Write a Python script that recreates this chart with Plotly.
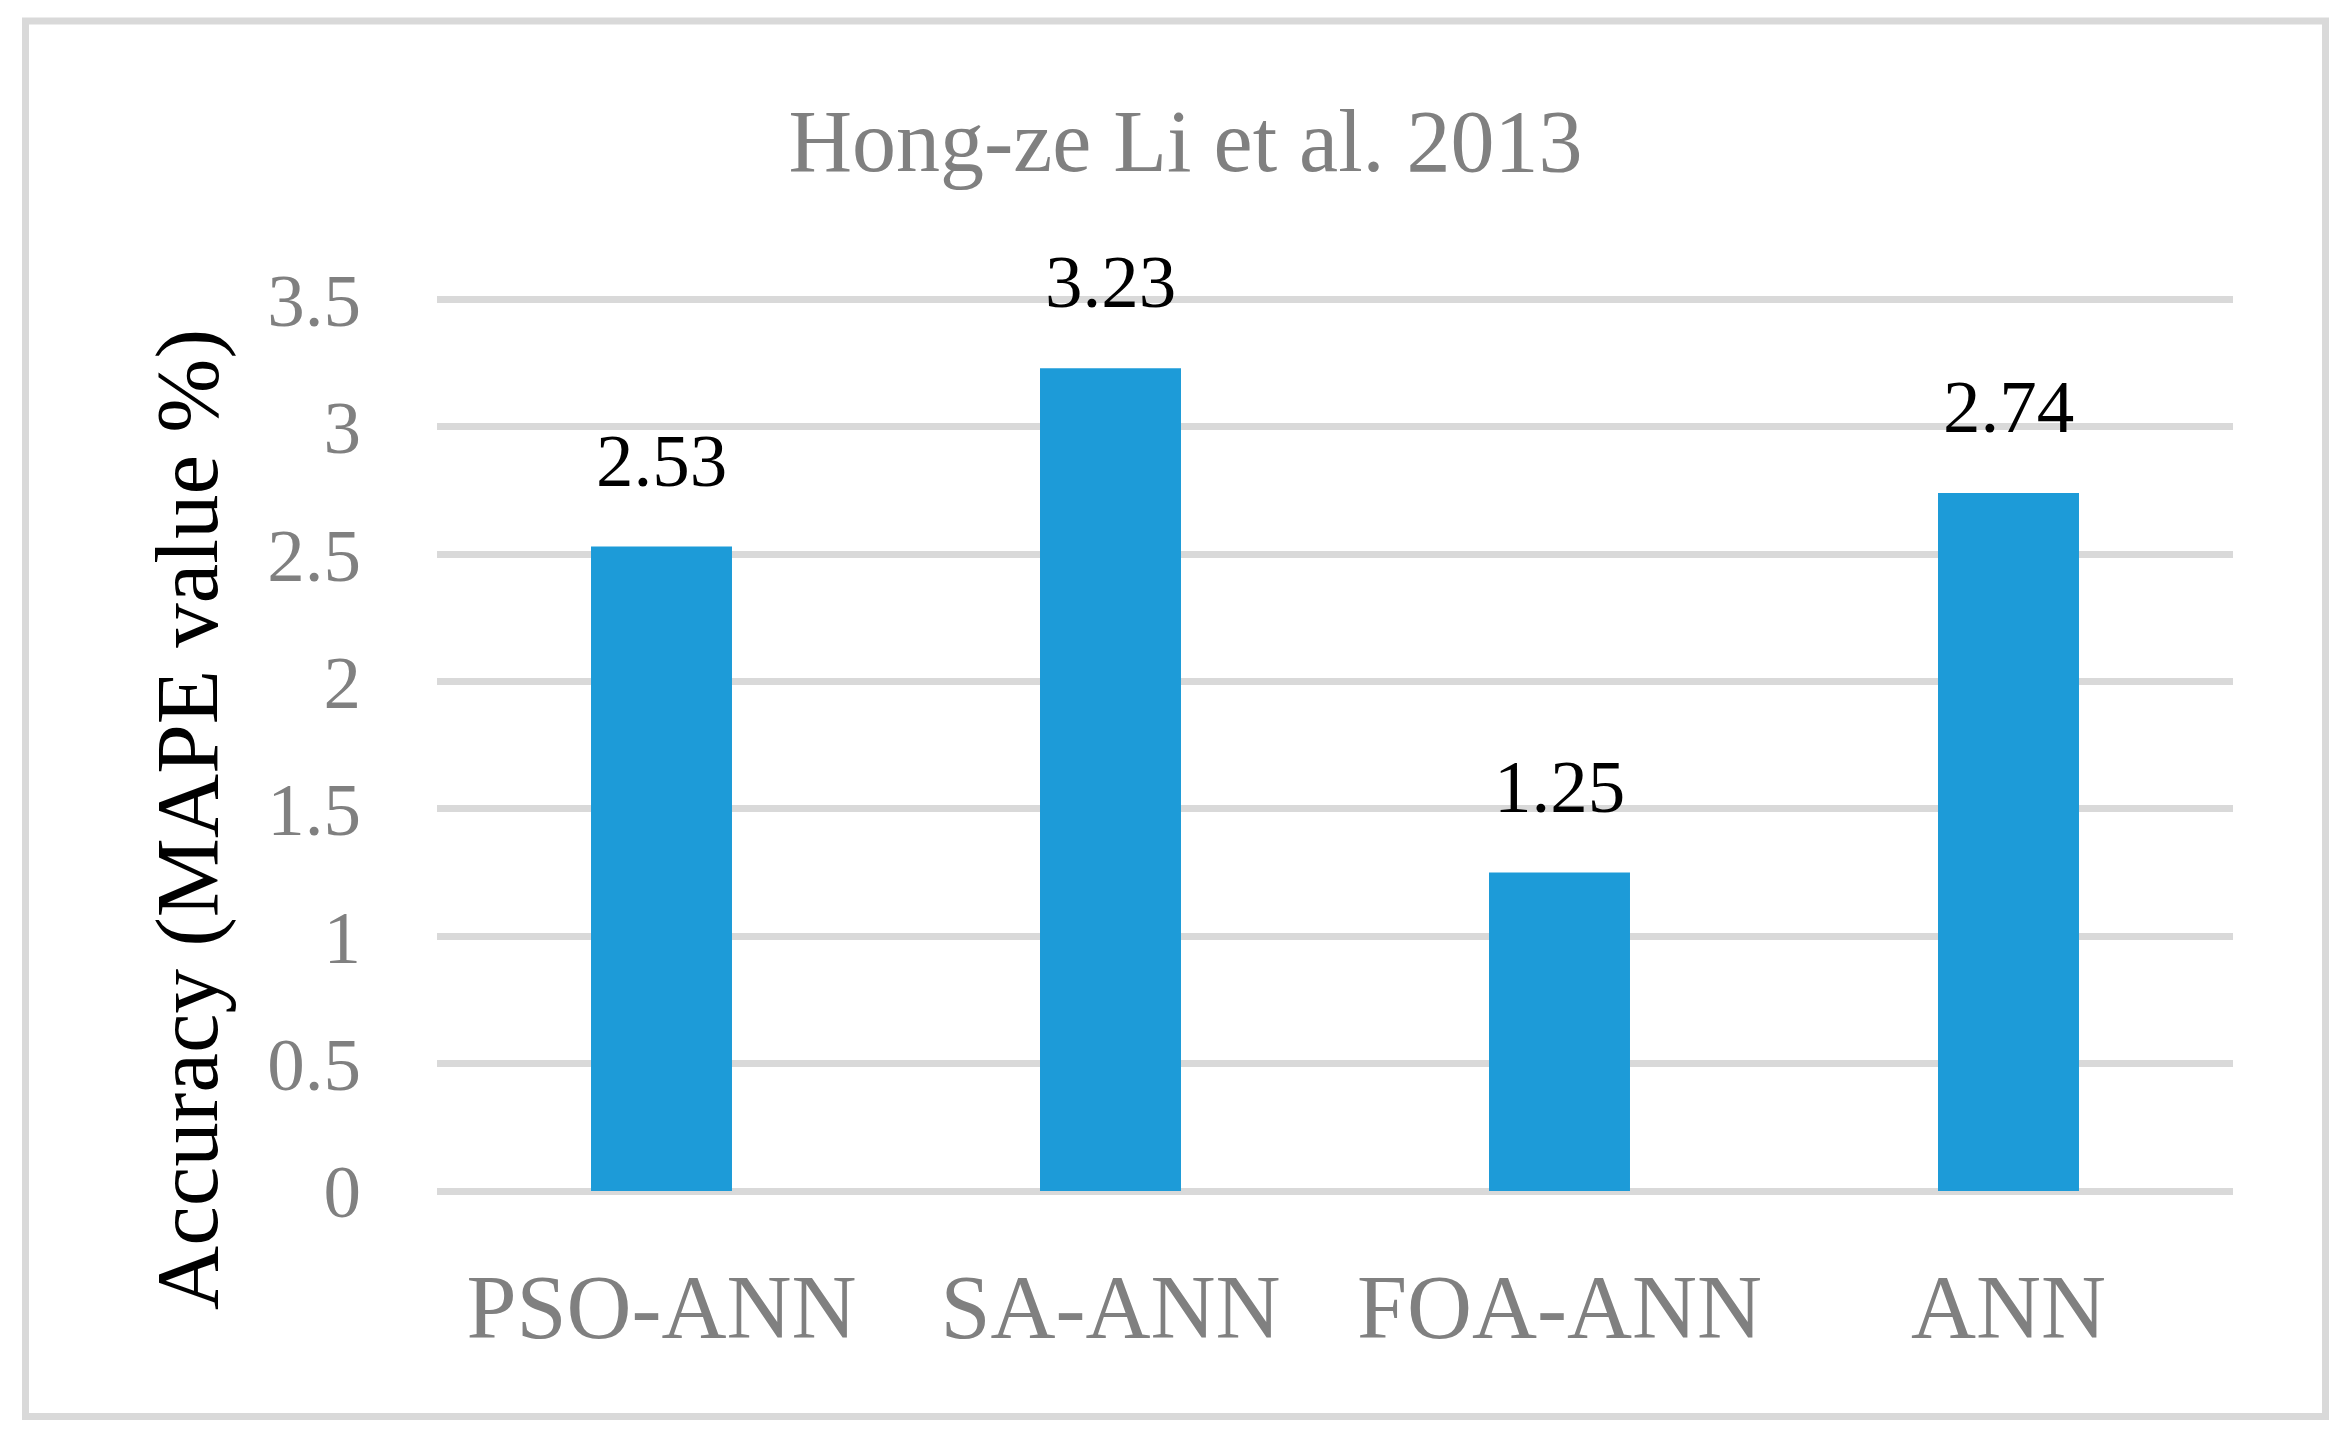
import plotly.graph_objects as go

categories = ["PSO-ANN", "SA-ANN", "FOA-ANN", "ANN"]
mape_values = [2.53, 3.23, 1.25, 2.74]
value_labels = ["2.53", "3.23", "1.25", "2.74"]
y_tick_vals = [0, 0.5, 1, 1.5, 2, 2.5, 3, 3.5]
y_tick_text = ["0", "0.5", "1", "1.5", "2", "2.5", "3", "3.5"]
y_range = [0, 3.51]
title_text = "Hong-ze Li et al. 2013"
y_title = "Accuracy (MAPE value %)"

# page has an 8px body margin; figure sized to fit the window
W, H = 2329, 1424
ML, PW = 429, 1796
MR = W - ML - PW
PB = 1183          # plot bottom (figure px)
PH = 894
MT = PB - PH
MB = H - PB
FONT = "Liberation Serif"


def px_to_paper_x(px):
    return (px - ML) / PW


def px_to_paper_y(py):
    return (PB - py) / PH


fig = go.Figure()
fig.add_trace(go.Bar(
    x=categories, y=mape_values,
    marker=dict(color="#1D9BD8", line=dict(width=0)),
    hoverinfo="x+y",
))

for c, v, t in zip(categories, mape_values, value_labels):
    fig.add_annotation(x=c, y=v, text=t, showarrow=False,
                       yanchor="bottom", yshift=43,
                       font=dict(family=FONT, size=75, color="#000000"))

# y-axis title (positioned below axis centre, as in the original)
fig.add_annotation(xref="paper", yref="paper",
                   x=px_to_paper_x(179), y=px_to_paper_y(812),
                   text=y_title, textangle=-90, showarrow=False,
                   xanchor="center", yanchor="middle",
                   font=dict(family=FONT, size=89, color="#000000"))

# chart-area border
fig.add_shape(type="rect", xref="paper", yref="paper",
              x0=px_to_paper_x(17.5), x1=px_to_paper_x(2317.5),
              y0=px_to_paper_y(1408.5), y1=px_to_paper_y(13),
              line=dict(color="#D9D9D9", width=7), fillcolor="rgba(0,0,0,0)",
              layer="below")

fig.update_layout(
    width=W, height=H,
    margin=dict(l=ML, r=MR, t=MT, b=MB, pad=0),
    paper_bgcolor="white", plot_bgcolor="white",
    bargap=0.686,
    showlegend=False,
    title=dict(text=title_text, x=1177.5 / W, xanchor="center",
               y=1 - 132 / H, yanchor="middle", yref="container",
               font=dict(family=FONT, size=88, color="#808080")),
    xaxis=dict(showgrid=False, showline=False, zeroline=False, ticks="",
               tickfont=dict(family=FONT, size=90, color="#808080"),
               ticklabelstandoff=56),
    yaxis=dict(range=y_range, tickvals=y_tick_vals, ticktext=y_tick_text,
               showgrid=True, gridcolor="#D9D9D9", gridwidth=7,
               zeroline=True, zerolinecolor="#D9D9D9", zerolinewidth=7,
               showline=False, ticks="",
               tickfont=dict(family=FONT, size=75, color="#808080"),
               ticklabelstandoff=75),
)

fig.write_html("out.html")
